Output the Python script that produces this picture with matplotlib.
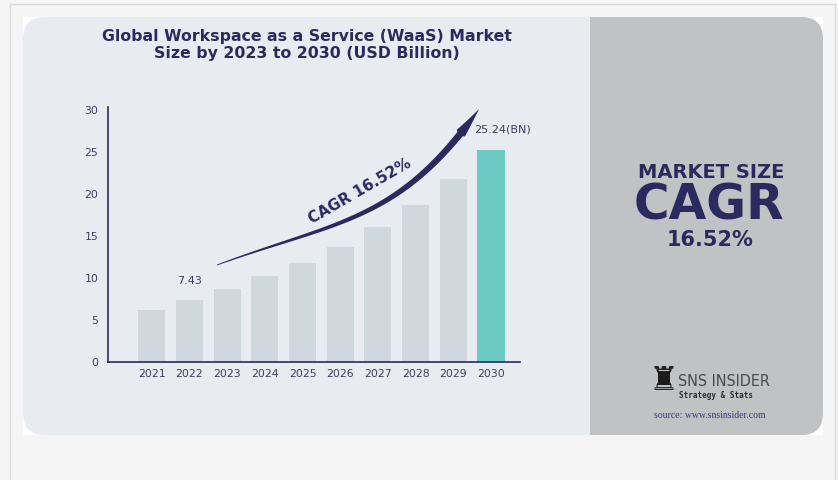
import numpy as np
import matplotlib.pyplot as plt
from matplotlib.patches import FancyBboxPatch, Rectangle, Polygon

# data
years = ['2021', '2022', '2023', '2024', '2025', '2026', '2027', '2028', '2029', '2030']
market_size = [6.2, 7.43, 8.7, 10.2, 11.8, 13.7, 16.1, 18.7, 21.8, 25.24]
y_ticks = [0, 5, 10, 15, 20, 25, 30]
cagr_text = 'CAGR 16.52%'

navy = '#2b2a5e'
tick_col = '#3d3d5c'
bar_col = '#d0d7dd'
last_col = '#6ccac4'

fig = plt.figure(figsize=(8.38, 4.8), dpi=100)
fig.patch.set_facecolor('#f5f5f5')

# background layer in pixel coordinates
bg = fig.add_axes([0, 0, 1, 1], zorder=0)
bg.set_xlim(0, 838)
bg.set_ylim(480, 0)
bg.axis('off')
bg.plot([10, 10], [4, 480], color='#dadada', lw=1)
bg.plot([835, 835], [4, 480], color='#dadada', lw=1)
bg.plot([10, 835], [4, 4], color='#dadada', lw=1)
bg.add_patch(Rectangle((23, 17), 800, 418, facecolor='white', edgecolor='none'))
card = FancyBboxPatch((23, 17), 800, 418, boxstyle='round,pad=0,rounding_size=22',
                      facecolor='#e8ecf1', edgecolor='none')
bg.add_patch(card)
side = Rectangle((590, 17), 233, 418, facecolor='#c1c2c4', edgecolor='none')
bg.add_patch(side)
side.set_clip_path(card)

# title
bg.text(307, 45, 'Global Workspace as a Service (WaaS) Market\nSize by 2023 to 2030 (USD Billion)',
        ha='center', va='center', fontsize=11.3, fontweight='bold', color=navy,
        linespacing=1.2)

# right panel
bg.text(711, 172, 'MARKET SIZE', ha='center', va='center', fontsize=14,
        fontweight='bold', color=navy)
bg.text(709, 206, 'CAGR', ha='center', va='center', fontsize=35,
        fontweight='bold', color=navy)
bg.text(710, 240, '16.52%', ha='center', va='center', fontsize=15,
        fontweight='bold', color=navy)

# logo
bg.text(663, 380, '\u265c', ha='center', va='center', fontsize=24, color='#1c1c1c')
bg.text(678, 382, 'SNS INSIDER', ha='left', va='center', fontsize=11.5,
        fontstretch='condensed', color='#4a4a4a')
bg.text(679, 396, 'Strategy & Stats', ha='left', va='center', fontsize=5.5,
        family='DejaVu Sans Mono', fontweight='bold', color='#2a2a2a')
bg.text(710, 415, 'source: www.snsinsider.com', ha='center', va='center', fontsize=7,
        family='Liberation Serif', color='#3b3a7a')

# bar chart
ax = fig.add_axes([108 / 838, 118 / 480, 412 / 838, 255.3 / 480], zorder=1)
ax.patch.set_alpha(0)
x = np.arange(len(years))
colors = [bar_col] * (len(years) - 1) + [last_col]
ax.bar(x, market_size, width=0.72, color=colors, zorder=2)
ax.set_xlim(-1.16, 9.77)
ax.set_ylim(0, 30.4)
ax.set_xticks(x)
ax.set_xticklabels(years)
ax.set_yticks(y_ticks)
ax.tick_params(length=0, labelsize=7.8, labelcolor=tick_col)
ax.tick_params(axis='y', pad=7)
ax.tick_params(axis='x', pad=5)
for s in ['top', 'right']:
    ax.spines[s].set_visible(False)
for s in ['left', 'bottom']:
    ax.spines[s].set_color(navy)
    ax.spines[s].set_linewidth(1.2)

ax.text(1, market_size[1] + 1.6, f'{market_size[1]:.2f}', ha='center', va='bottom',
        fontsize=8, color=tick_col)
ax.text(9 - 0.45, market_size[-1] + 2.4, f'{market_size[-1]:.2f}(BN)', ha='left', va='center',
        fontsize=8, color=tick_col, clip_on=False)

# curved CAGR swoosh (pixel coords of the background layer)
P = np.array([[217, 265], [337, 221], [399, 222], [479, 109]], float)
t = np.linspace(0, 1, 300)
curve = (((1 - t) ** 3)[:, None] * P[0] + (3 * (1 - t) ** 2 * t)[:, None] * P[1]
         + (3 * (1 - t) * t ** 2)[:, None] * P[2] + (t ** 3)[:, None] * P[3])
d = np.gradient(curve, axis=0)
nrm = np.column_stack([-d[:, 1], d[:, 0]])
nrm /= np.linalg.norm(nrm, axis=1)[:, None]
head = 0.92
w = np.where(t < head, 0.4 + 3.0 * (t / head) ** 0.8, 5.5 * (1 - t) / (1 - head))
pts = np.vstack([curve + nrm * w[:, None], (curve - nrm * w[:, None])[::-1]])
bg.add_patch(Polygon(pts, closed=True, facecolor=navy, edgecolor='none'))
bg.text(360, 191, cagr_text, ha='center', va='center', rotation=30, fontsize=11,
        fontweight='bold', color=navy, rotation_mode='anchor')

fig.savefig('out.png', dpi=100)
